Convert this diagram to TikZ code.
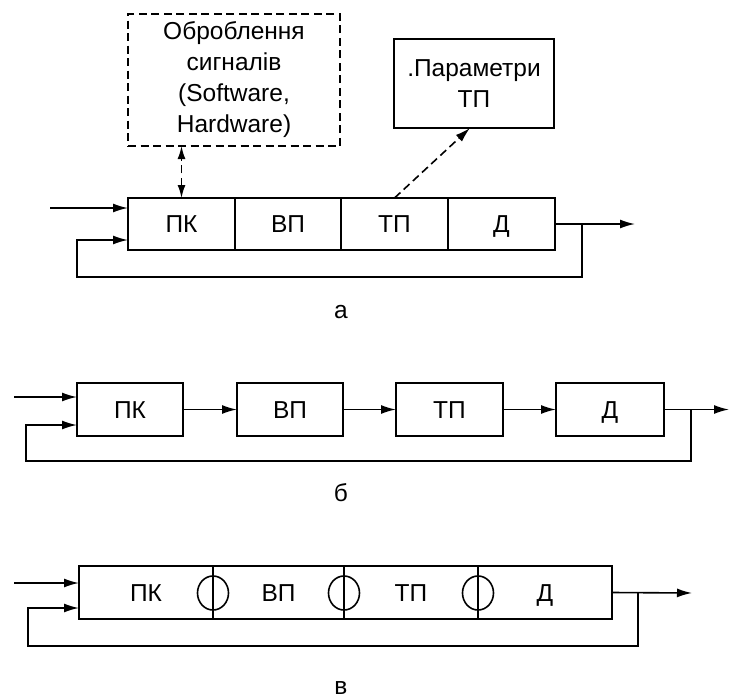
\documentclass[tikz,border=0pt]{standalone}
\usepackage{fontspec}
\setmainfont{Liberation Sans}
\usetikzlibrary{arrows.meta,shapes.geometric}
\begin{document}
\begin{tikzpicture}[x=1pt,y=-1pt,
  line width=1.6pt,
  font=\fontsize{24.5}{31}\selectfont,
  cell/.style={draw,rectangle,inner sep=0pt,outer sep=0pt,minimum height=52pt},
  unit/.style={cell,text height=17.5pt,text depth=0pt},
  arr/.style={-{Latex[length=15pt,width=9pt]}},
  dsh/.style={dash pattern=on 8pt off 4.5pt},
  darr/.style={{Latex[length=13pt,width=8pt]}-{Latex[length=13pt,width=8pt]},dsh},
  ring/.style={draw,ellipse,minimum width=31pt,minimum height=34pt,inner sep=0pt},
  lbl/.style={inner sep=0pt}]
\useasboundingbox (0,0) rectangle (729,699);
% ---------- a ----------
\node[cell,dsh,minimum width=212pt,minimum height=132pt,align=center] (proc) at (234,80)
  {Оброблення\\сигналів\\(Software,\\Hardware)};
\node[cell,minimum width=160pt,minimum height=89pt,align=center] (par) at (474,83.5)
  {.Параметри\\ТП};
\node[unit,minimum width=107pt] (pka) at (181.5,224) {ПК};
\node[unit,minimum width=106pt] (vpa) at (288,224) {ВП};
\node[unit,minimum width=107pt] (tpa) at (394.5,224) {ТП};
\node[unit,minimum width=107pt] (da) at (501.5,224) {Д};
\draw[darr] (pka.north) -- (pka.north |- proc.south);
\draw[arr,dsh] (tpa.north) -- ([xshift=-4pt]par.south);
\coordinate (ina) at (50,208);
\coordinate (fba) at (77,240);
\coordinate (taa) at (582,224);
\coordinate (outa) at (635,224);
\draw[arr] (ina) -- (ina -| pka.west);
\draw[arr] (da.east) -- (outa);
\draw[arr] (taa) |- (77,277) -- (fba) -- (fba -| pka.west);
\node[lbl] (la) at (341,312) {а};
% ---------- b ----------
\node[unit,minimum width=106pt,minimum height=53pt] (pkb) at (130,409.5) {ПК};
\node[unit,minimum width=106pt,minimum height=53pt] (vpb) at (290,409.5) {ВП};
\node[unit,minimum width=107pt,minimum height=53pt] (tpb) at (449.5,409.5) {ТП};
\node[unit,minimum width=108pt,minimum height=53pt] (db) at (610,409.5) {Д};
\draw[arr] (pkb) -- (vpb);
\draw[arr] (vpb) -- (tpb);
\draw[arr] (tpb) -- (db);
\coordinate (inb) at (14,397);
\coordinate (fbb) at (26,425);
\coordinate (tab) at (691,409.5);
\coordinate (outb) at (729,409.5);
\draw[arr] (inb) -- (inb -| pkb.west);
\draw[arr] (db.east) -- (outb);
\draw[arr] (tab) |- (26,461) -- (fbb) -- (fbb -| pkb.west);
\node[lbl] (lb) at (341,493) {б};
% ---------- c ----------
\node[unit,minimum width=134pt,minimum height=53pt] (pkc) at (146,592.5) {ПК};
\node[unit,minimum width=131pt,minimum height=53pt] (vpc) at (278.5,592.5) {ВП};
\node[unit,minimum width=134pt,minimum height=53pt] (tpc) at (411,592.5) {ТП};
\node[unit,minimum width=134pt,minimum height=53pt] (dc) at (545,592.5) {Д};
\node[ring] (c1) at (213,593) {};
\node[ring] (c2) at (344,593) {};
\node[ring] (c3) at (478,593) {};
\coordinate (inc) at (14,583);
\coordinate (fbc) at (28,608);
\coordinate (tac) at (638,593);
\coordinate (outc) at (692,593);
\draw[arr] (inc) -- (inc -| pkc.west);
\draw[arr] (dc.east) -- (outc);
\draw[arr] (tac) |- (28,646) -- (fbc) -- (fbc -| pkc.west);
\node[lbl] (lc) at (341,688) {в};
\end{tikzpicture}
\end{document}
